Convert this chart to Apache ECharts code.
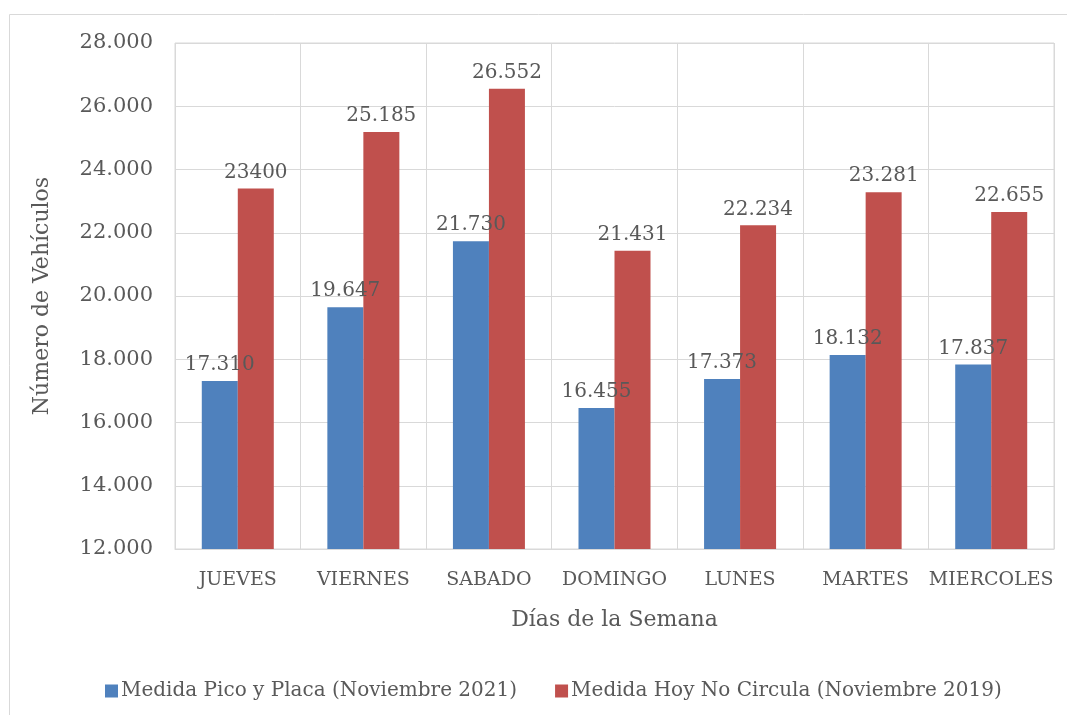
<!DOCTYPE html>
<html>
<head>
<meta charset="utf-8">
<script src="https://cdn.jsdelivr.net/npm/echarts@6/dist/echarts.min.js"></script>
<style>
  html, body { margin: 0; padding: 0; background: #fff; }
  #chart { width: 1067px; height: 715px; }
</style>
</head>
<body>
<div id="chart"></div>
<script>
// datos
const dias = ['JUEVES', 'VIERNES', 'SABADO', 'DOMINGO', 'LUNES', 'MARTES', 'MIERCOLES']
const picoYPlaca = [17310, 19647, 21730, 16455, 17373, 18132, 17837]
const hoyNoCircula = [23400, 25185, 26552, 21431, 22234, 23281, 22655]
// etiquetas tal como aparecen (la primera roja sin separador)
const etiquetasRojas = ['23400', '25.185', '26.552', '21.431', '22.234', '23.281', '22.655']

const fuente = 'DejaVu Serif'
const gris = '#595959'

function miles (v) {
  return String(v).replace(/\B(?=(\d{3})+(?!\d))/g, '.')
}

var myChart = echarts.init(document.getElementById('chart'))

var option = {
  animation: false,
  textStyle: { fontFamily: fuente, color: gris },
  graphic: [{
    type: 'rect',
    shape: { x: 9.5, y: 14.5, width: 1070, height: 720 },
    style: { fill: 'none', stroke: '#d9d9d9', lineWidth: 1 },
    silent: true
  }],
  grid: {
    left: 175, right: 13, top: 43, bottom: 166,
    show: true, borderColor: '#d9d9d9', borderWidth: 1
  },
  legend: {
    left: 100, top: 676,
    itemWidth: 13, itemHeight: 13, itemGap: 38,
    icon: 'rect',
    textStyle: { fontFamily: fuente, fontSize: 20, color: gris, padding: [0, 0, 0, -2] },
    data: ['Medida Pico y Placa (Noviembre 2021)', 'Medida Hoy No Circula (Noviembre 2019)']
  },
  xAxis: {
    type: 'category',
    data: dias,
    name: 'Días de la Semana',
    nameLocation: 'middle',
    nameGap: 60,
    nameTextStyle: { fontFamily: fuente, fontSize: 22, color: gris },
    axisLine: { lineStyle: { color: '#d9d9d9' } },
    axisTick: { show: false },
    axisLabel: { interval: 0, fontFamily: fuente, fontSize: 19, color: gris, margin: 22 },
    splitLine: { show: true, interval: 0, lineStyle: { color: '#d9d9d9' } }
  },
  yAxis: {
    type: 'value',
    min: 12000, max: 28000, interval: 2000,
    name: 'Número de Vehículos',
    nameLocation: 'middle',
    nameGap: 122,
    nameTextStyle: { fontFamily: fuente, fontSize: 22, color: gris },
    axisLine: { show: false },
    axisTick: { show: false },
    axisLabel: { fontFamily: fuente, fontSize: 21, color: gris, margin: 22, formatter: miles },
    splitLine: { lineStyle: { color: '#d9d9d9' } }
  },
  series: [
    {
      name: 'Medida Pico y Placa (Noviembre 2021)',
      type: 'bar',
      data: picoYPlaca,
      barWidth: 36,
      barGap: '0%',
      itemStyle: { color: '#4f81bd' },
      label: {
        show: true, position: 'top', distance: 6,
        fontFamily: fuente, fontSize: 20, color: gris,
        formatter: p => miles(p.value)
      }
    },
    {
      name: 'Medida Hoy No Circula (Noviembre 2019)',
      type: 'bar',
      data: hoyNoCircula,
      barWidth: 36,
      itemStyle: { color: '#c0504d' },
      label: {
        show: true, position: 'top', distance: 6,
        fontFamily: fuente, fontSize: 20, color: gris,
        formatter: p => etiquetasRojas[p.dataIndex]
      }
    }
  ]
}

myChart.setOption(option)
</script>
</body>
</html>
